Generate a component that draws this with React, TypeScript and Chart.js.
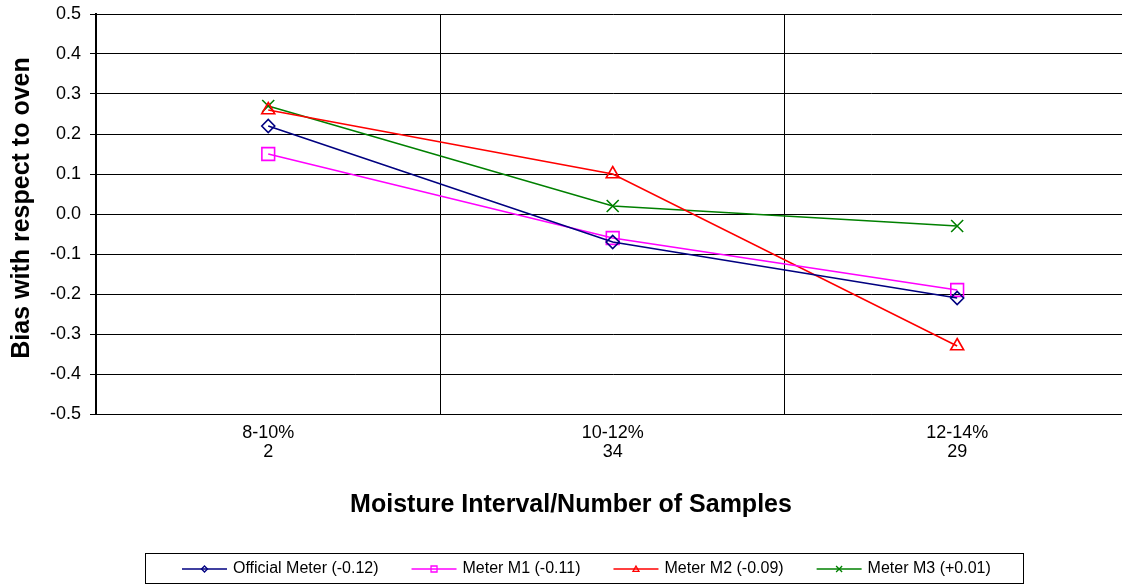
import React, { useEffect, useRef } from 'react';
import { Chart, registerables } from 'chart.js';

Chart.register(...registerables);

const categories: string[][] = [['8-10%', '2'], ['10-12%', '34'], ['12-14%', '29']];
const officialMeter = [0.22, -0.07, -0.21];
const meterM1 = [0.15, -0.06, -0.19];
const meterM2 = [0.26, 0.10, -0.33];
const meterM3 = [0.27, 0.02, -0.03];
const seriesLabels = ['Official Meter (-0.12)', 'Meter M1 (-0.11)', 'Meter M2 (-0.09)', 'Meter M3 (+0.01)'];
const yMin = -0.5;
const yMax = 0.5;
const yStep = 0.1;
const xTitle = 'Moisture Interval/Number of Samples';
const yTitle = 'Bias with respect to oven';

const FONT = '"Liberation Sans", Arial, sans-serif';
const CANVAS_W = 1140;
const CANVAS_H = 584;

function drawMarker(ctx: CanvasRenderingContext2D, style: string, x: number, y: number, r: number) {
  ctx.beginPath();
  if (style === 'rectRot') {
    ctx.moveTo(x, y - r);
    ctx.lineTo(x + r, y);
    ctx.lineTo(x, y + r);
    ctx.lineTo(x - r, y);
    ctx.closePath();
  } else if (style === 'rect') {
    ctx.rect(x - r, y - r, 2 * r, 2 * r);
  } else if (style === 'triangle') {
    ctx.moveTo(x, y - r);
    ctx.lineTo(x + r, y + r * 0.8);
    ctx.lineTo(x - r, y + r * 0.8);
    ctx.closePath();
  } else {
    ctx.moveTo(x - r, y - r);
    ctx.lineTo(x + r, y + r);
    ctx.moveTo(x + r, y - r);
    ctx.lineTo(x - r, y + r);
  }
  ctx.stroke();
}

const customPlugin = {
  id: 'customDecor',
  afterDraw(chart: any) {
    const ctx: CanvasRenderingContext2D = chart.ctx;
    ctx.save();
    // axis titles
    ctx.fillStyle = '#000';
    ctx.font = `bold 25px ${FONT}`;
    ctx.textAlign = 'center';
    ctx.textBaseline = 'middle';
    ctx.fillText(xTitle, 571, 505);
    ctx.save();
    ctx.translate(22, 208);
    ctx.rotate(-Math.PI / 2);
    ctx.fillText(yTitle, 0, 0);
    ctx.restore();

    // legend
    const boxL = 145, boxT = 553, boxW = 878, boxH = 30;
    ctx.strokeStyle = '#000';
    ctx.lineWidth = 1;
    ctx.strokeRect(boxL + 0.5, boxT + 0.5, boxW, boxH);
    ctx.font = `16px ${FONT}`;
    ctx.textAlign = 'left';
    let x = boxL + 37;
    const y = boxT + 16;
    chart.data.datasets.forEach((ds: any) => {
      ctx.strokeStyle = ds.borderColor;
      ctx.lineWidth = 1.5;
      ctx.beginPath();
      ctx.moveTo(x, y);
      ctx.lineTo(x + 45, y);
      ctx.stroke();
      ctx.lineWidth = 1.3;
      drawMarker(ctx, ds.pointStyle, x + 22.5, y, 3);
      ctx.fillStyle = '#000';
      ctx.fillText(ds.label, x + 51, y);
      x += 51 + ctx.measureText(ds.label).width + 33;
    });
    ctx.restore();
  },
};

export default function App() {
  const ref = useRef<HTMLCanvasElement | null>(null);
  useEffect(() => {
    document.body.style.margin = '0';
    document.body.style.overflow = 'hidden';
    document.documentElement.style.overflow = 'hidden';
    if (!ref.current) return;
    const mk = (label: string, data: number[], color: string, style: string, radius: number) => ({
      label,
      data,
      borderColor: color,
      backgroundColor: 'transparent',
      borderWidth: 1.6,
      pointStyle: style,
      pointRadius: radius,
      pointBorderWidth: 1.6,
      pointBorderColor: color,
      pointBackgroundColor: 'rgba(0,0,0,0)',
      tension: 0,
    });
    const chart = new Chart(ref.current, {
      type: 'line',
      data: {
        labels: categories,
        datasets: [
          mk(seriesLabels[0], officialMeter, '#000080', 'rectRot', 6.5),
          mk(seriesLabels[1], meterM1, '#ff00ff', 'rect', 9),
          mk(seriesLabels[2], meterM2, '#ff0000', 'triangle', 7.5),
          mk(seriesLabels[3], meterM3, '#008000', 'crossRot', 8.5),
        ],
      },
      options: {
        animation: false,
        responsive: false,
        devicePixelRatio: 1,
        layout: { padding: { top: 14, right: 9, left: 0, bottom: 0 } },
        plugins: { legend: { display: false }, tooltip: { enabled: false }, title: { display: false } },
        scales: {
          x: {
            type: 'category',
            offset: true,
            grid: { offset: true, color: '#000', lineWidth: 1, drawTicks: false },
            border: { color: '#000', width: 1 },
            ticks: { font: { family: FONT, size: 18, lineHeight: 1.05 }, color: '#000', padding: 10, maxRotation: 0, autoSkip: false },
            afterFit: (s: any) => { s.height = 170; s.paddingLeft = 0; s.paddingRight = 0; },
          },
          y: {
            min: yMin,
            max: yMax,
            ticks: {
              stepSize: yStep,
              font: { family: FONT, size: 18 },
              color: '#000',
              padding: 9,
              callback: (v: any) => (Math.abs(Number(v)) < 1e-9 ? '0.0' : Number(v).toFixed(1)),
            },
            grid: { color: '#000', lineWidth: 1, tickLength: 6 },
            border: { color: '#000', width: 2 },
            afterFit: (s: any) => { s.width = 96; s.paddingTop = 0; s.paddingBottom = 0; },
          },
        },
      },
      plugins: [customPlugin],
    } as any);
    return () => chart.destroy();
  }, []);
  return (
    <canvas ref={ref} width={CANVAS_W} height={CANVAS_H} style={{ display: 'block', width: CANVAS_W, height: CANVAS_H }} />
  );
}
